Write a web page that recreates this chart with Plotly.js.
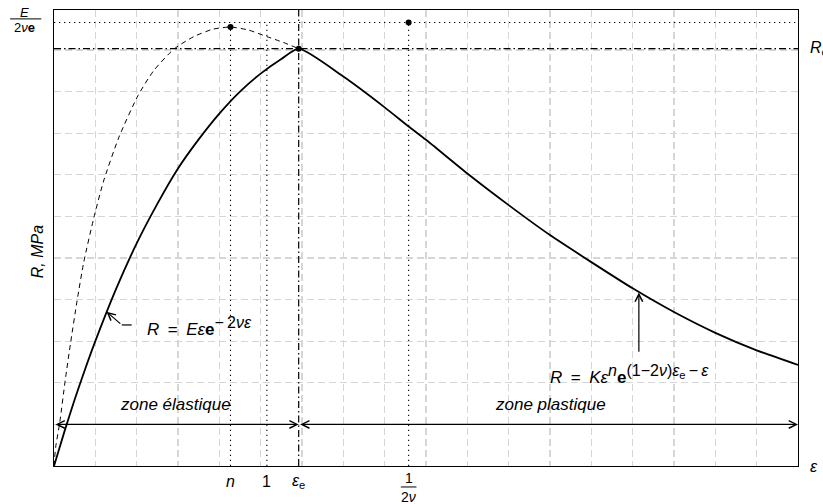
<!DOCTYPE html>
<html><head><meta charset="utf-8">
<script src="https://cdn.plot.ly/plotly-3.0.1.min.js"></script>
<style>html,body{margin:0;padding:0;background:#fff}</style>
</head><body><div id="chart" style="width:823px;height:504px"></div>
<script>
// ---- data (grid units) ----
const elasticEps = [0, 0.25, 0.5, 0.75, 1, 1.5, 2, 2.5, 3, 3.5, 4, 4.5, 5, 5.5, 5.92];
const elasticR   = [0, 0.82, 1.6, 2.32, 3.0, 4.25, 5.35, 6.3, 7.15, 7.85, 8.47, 9.0, 9.43, 9.78, 10.03];
const plasticEps = [5.92, 7.0, 8.0, 8.58, 9.0, 10.0, 11.0, 12.0, 13.0, 14.0, 15.0, 16.0, 17.0, 18.0];
const plasticR   = [10.03, 9.36, 8.62, 8.16, 7.84, 7.03, 6.27, 5.55, 4.9, 4.27, 3.7, 3.2, 2.78, 2.43];
const dashedEps  = [0, 0.04, 0.14, 0.27, 0.4, 0.56, 0.72, 0.96, 1.2, 1.57, 2.03, 2.41, 2.9, 3.38, 3.85, 4.27, 4.7, 5.15, 5.55, 5.92];
const dashedR    = [0, 0.45, 1.05, 2.05, 2.95, 3.98, 4.9, 5.95, 6.85, 7.9, 8.9, 9.5, 10.02, 10.32, 10.5, 10.55, 10.48, 10.32, 10.18, 10.03];

// reference abscissae: n, 1, eps_e, 1/(2 nu)
const refEps = [4.27, 5.15, 5.92, 8.58];
const refLabels = ['<i>n</i>', '1', '<i>ε</i><sub>e</sub>', null];
const peakR = 10.66;       // E/(2 nu e)
const yieldR = 10.03;      // R_e
const dashedPeakR = 10.55;
const zoneR = 1.0;
const xMax = 18, yMax = 10.96;

const FONT = 'Liberation Sans, Arial, sans-serif';
const dotStyle = '1.3px,3.7px';
const dashDot = '7px,3px,1.5px,3px';
const EN = '\u2002', TH = '\u2009';
const SUP = s => '<sup><span style="font-size:16px">' + s + '</span></sup>';

const traces = [];
function seg(x, y, dash, w) {
  traces.push({x: x, y: y, type: 'scatter', mode: 'lines', hoverinfo: 'skip', showlegend: false,
    line: {color: 'black', width: w, dash: dash}});
}
seg([0, xMax], [peakR, peakR], dotStyle, 1.1);
seg([0, xMax], [yieldR, yieldR], dashDot, 1.2);
seg([refEps[0], refEps[0]], [0, peakR], dotStyle, 1.1);
seg([refEps[1], refEps[1]], [0, peakR], dotStyle, 1.1);
seg([refEps[2], refEps[2]], [0, yMax], dashDot, 1.2);
seg([refEps[3], refEps[3]], [0, peakR], dotStyle, 1.1);
traces.push({x: dashedEps, y: dashedR, type: 'scatter', mode: 'lines', showlegend: false, hoverinfo: 'skip',
  line: {color: 'black', width: 1, dash: '5px,4px', shape: 'spline', smoothing: 0.6}});
traces.push({x: elasticEps.concat(plasticEps.slice(1)), y: elasticR.concat(plasticR.slice(1)),
  type: 'scatter', mode: 'lines', showlegend: false, hoverinfo: 'skip',
  line: {color: 'black', width: 1.8, shape: 'spline', smoothing: 0.6}});
traces.push({x: [refEps[0], refEps[3], refEps[2]], y: [dashedPeakR, peakR, yieldR], type: 'scatter', mode: 'markers',
  showlegend: false, hoverinfo: 'skip', marker: {color: 'black', size: 6}, cliponaxis: false});

const pxX = v => v / xMax;
const ann = [];
// x tick labels
refEps.forEach((v, i) => {
  if (refLabels[i]) ann.push({x: v, xref: 'x', y: -0.033, yref: 'paper', text: refLabels[i], showarrow: false,
    xanchor: 'center', yanchor: 'middle', font: {family: FONT, size: 16, color: 'black'}});
});
ann.push({x: refEps[3], xref: 'x', y: -0.026, yref: 'paper', text: '1', showarrow: false, xanchor: 'center', yanchor: 'middle', font: {family: FONT, size: 14, color: 'black'}});
ann.push({x: refEps[3], xref: 'x', y: -0.067, yref: 'paper', text: '2<i>ν</i>', showarrow: false, xanchor: 'center', yanchor: 'middle', font: {family: FONT, size: 14, color: 'black'}});
// y label fraction E/(2 nu e)
ann.push({x: -0.039, xref: 'paper', y: 0.9945, yref: 'paper', text: '<i>E</i>', showarrow: false, xanchor: 'center', yanchor: 'middle', font: {family: FONT, size: 13, color: 'black'}});
ann.push({x: -0.039, xref: 'paper', y: 0.9616, yref: 'paper', text: '2<i>ν</i><b>e</b>', showarrow: false, xanchor: 'center', yanchor: 'middle', font: {family: FONT, size: 13, color: 'black'}});
// axis titles
ann.push({x: -0.022, xref: 'paper', y: 0.47, yref: 'paper', text: '<i>R, MPa</i>', textangle: -90, showarrow: false, xanchor: 'center', yanchor: 'middle', font: {family: FONT, size: 16, color: 'black'}});
ann.push({x: 1.014, xref: 'paper', y: 0, yref: 'paper', text: '<i>ε</i>', showarrow: false, xanchor: 'left', yanchor: 'middle', font: {family: FONT, size: 16, color: 'black'}});
ann.push({x: 1.014, xref: 'paper', y: yieldR, yref: 'y', text: '<i>R</i><sub>e</sub>', showarrow: false, xanchor: 'left', yanchor: 'middle', font: {family: FONT, size: 16, color: 'black'}});
// formulas
ann.push({x: 2.2, xref: 'x', y: 3.35, yref: 'y',
  text: '<i>R</i>' + EN + '=' + EN + '<i>Eε</i><b>e</b>' + SUP('−' + TH + '2<i>νε</i>'),
  showarrow: false, xanchor: 'left', yanchor: 'middle', font: {family: FONT, size: 17, color: 'black'}});
ann.push({x: 11.95, xref: 'x', y: 2.2, yref: 'y',
  text: '<i>R</i>' + EN + '=' + EN + '<i>Kε</i>' + SUP('<i>n</i>') + '<b>e</b>' + SUP('(1−2<i>ν</i>)<i>ε</i><sub>e</sub>' + TH + '−' + TH + '<i>ε</i>'),
  showarrow: false, xanchor: 'left', yanchor: 'middle', font: {family: FONT, size: 17, color: 'black'}});
// zone labels
ann.push({x: 2.95, xref: 'x', y: 1.47, yref: 'y', text: '<i>zone élastique</i>', showarrow: false, font: {family: FONT, size: 17, color: 'black'}});
ann.push({x: 12.0, xref: 'x', y: 1.47, yref: 'y', text: '<i>zone plastique</i>', showarrow: false, font: {family: FONT, size: 17, color: 'black'}});
// arrows
const arrowBase = {text: '', showarrow: true, arrowhead: 5, arrowsize: 1.25, arrowwidth: 1.2, arrowcolor: 'black', standoff: 0, startstandoff: 0, xref: 'x', yref: 'y', axref: 'x', ayref: 'y'};
ann.push(Object.assign({}, arrowBase, {x: refEps[2], y: zoneR, ax: 0, ay: zoneR, arrowside: 'end+start', startarrowhead: 5, startarrowsize: 1.25}));
ann.push(Object.assign({}, arrowBase, {x: xMax, y: zoneR, ax: refEps[2], ay: zoneR, arrowside: 'end+start', startarrowhead: 5, startarrowsize: 1.25}));
ann.push(Object.assign({}, arrowBase, {x: 1.27, y: 3.71, ax: 1.64, ay: 3.39}));
ann.push(Object.assign({}, arrowBase, {x: 14.15, y: 4.17, ax: 14.15, ay: 2.71}));

const shapes = [
  {type: 'line', xref: 'x', yref: 'y', x0: 1.64, y0: 3.39, x1: 1.88, y1: 3.39, line: {color: 'black', width: 1.2}},
  {type: 'line', xref: 'paper', yref: 'paper', x0: pxX(refEps[3]) - 0.0105, x1: pxX(refEps[3]) + 0.0105, y0: -0.046, y1: -0.046, line: {color: 'black', width: 1}},
  {type: 'line', xref: 'paper', yref: 'paper', x0: -0.059, x1: -0.017, y0: 0.9805, y1: 0.9805, line: {color: 'black', width: 1}}
];

const axisBase = {showgrid: true, gridcolor: '#d6d6d6', gridwidth: 1.2, griddash: '7px,4px', tick0: 0, dtick: 1,
  showticklabels: false, ticks: '', showline: true, mirror: true, linecolor: 'black', linewidth: 1.3, zeroline: false, fixedrange: true};

const layout = {
  width: 823, height: 504,
  margin: {l: 54, r: 25, t: 10, b: 38},
  paper_bgcolor: 'white', plot_bgcolor: 'white',
  xaxis: Object.assign({}, axisBase, {range: [0, xMax]}),
  yaxis: Object.assign({}, axisBase, {range: [0, yMax]}),
  annotations: ann, shapes: shapes, showlegend: false,
  font: {family: FONT, color: 'black'}
};
Plotly.newPlot('chart', traces, layout, {displayModeBar: false, staticPlot: true});
</script></body></html>
